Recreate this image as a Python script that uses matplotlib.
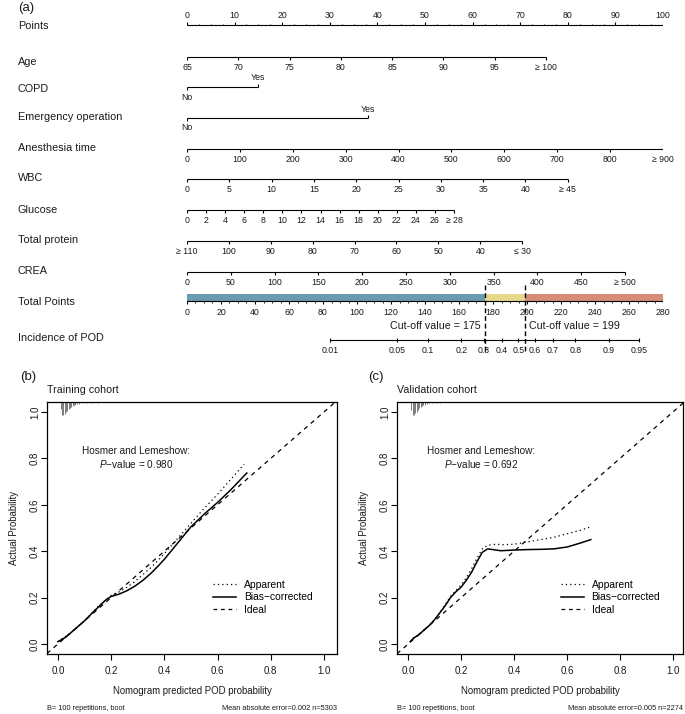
import matplotlib
matplotlib.use('Agg')
import matplotlib.pyplot as plt
import matplotlib.transforms as mtransforms
from matplotlib.lines import Line2D
import numpy as np

plt.rcParams['font.family'] = ['Liberation Sans', 'DejaVu Sans']
plt.rcParams['mathtext.fontset'] = 'custom'
plt.rcParams['mathtext.rm'] = 'Liberation Sans'
plt.rcParams['mathtext.it'] = 'Liberation Sans:italic'

W, H = 685, 714
TXT = '#1a1a1a'

# ---------------- nomogram data ----------------
var_labels = ['Age', 'COPD', 'Emergency operation', 'Anesthesia time',
              'WBC', 'Glucose', 'Total protein', 'CREA']
age_ticks = ['65', '70', '75', '80', '85', '90', '95', '≥ 100']
copd_ticks = ['No', 'Yes']
emerg_ticks = ['No', 'Yes']
anesth_ticks = ['0', '100', '200', '300', '400', '500', '600', '700', '800', '≥ 900']
wbc_ticks = ['0', '5', '10', '15', '20', '25', '30', '35', '40', '≥ 45']
glucose_ticks = ['0', '2', '4', '6', '8', '10', '12', '14', '16', '18', '20',
                 '22', '24', '26', '≥ 28']
protein_ticks = ['≥ 110', '100', '90', '80', '70', '60', '50', '40', '≤ 30']
crea_ticks = ['0', '50', '100', '150', '200', '250', '300', '350', '400', '450', '≥ 500']
var_ticks = [age_ticks, copd_ticks, emerg_ticks, anesth_ticks, wbc_ticks,
             glucose_ticks, protein_ticks, crea_ticks]
# points given to the last level of every variable
var_max_points = [75.4, 14.9, 38.0, 100.0, 80.0, 56.1, 70.4, 92.0]

total_points_ticks = [0, 20, 40, 60, 80, 100, 120, 140, 160, 180, 200, 220, 240, 260, 280]
cutoffs = [175, 199]
risk_colors = ['#6b9bb0', '#e7d78b', '#d68d77']
pod_probs = [0.01, 0.05, 0.1, 0.2, 0.3, 0.4, 0.5, 0.6, 0.7, 0.8, 0.9, 0.95]
pod_prob_labels = ['0.01', '0.05', '0.1', '0.2', '0.3', '0.4', '0.5', '0.6',
                   '0.7', '0.8', '0.9', '0.95']
lp_intercept = -8.07   # linear predictor = intercept + slope * total points
lp_slope = 0.0414

# ---------------- calibration data ----------------
train_bc_x = [0.0, 0.03, 0.07, 0.10, 0.13, 0.16, 0.18, 0.20, 0.23, 0.26, 0.29, 0.32,
              0.35, 0.38, 0.40, 0.45, 0.50, 0.55, 0.60, 0.65, 0.70, 0.71]
train_bc_y = [0.01, 0.03, 0.07, 0.10, 0.135, 0.168, 0.19, 0.205, 0.215, 0.23, 0.25, 0.275,
              0.305, 0.34, 0.365, 0.435, 0.505, 0.56, 0.61, 0.665, 0.725, 0.737]
train_app_x = [0.0, 0.05, 0.10, 0.15, 0.18, 0.20, 0.23, 0.26, 0.29, 0.32, 0.35, 0.38,
               0.40, 0.45, 0.50, 0.55, 0.60, 0.65, 0.70]
train_app_y = [0.01, 0.05, 0.10, 0.16, 0.19, 0.21, 0.225, 0.245, 0.27, 0.30, 0.33, 0.365,
               0.39, 0.455, 0.52, 0.585, 0.645, 0.71, 0.775]
train_hist_x = [0.010, 0.015, 0.020, 0.025, 0.030, 0.035, 0.040, 0.045, 0.050, 0.055,
                0.060, 0.065, 0.070, 0.080, 0.090, 0.100, 0.110, 0.120, 0.130, 0.150,
                0.170, 0.190, 0.210]
train_hist_h = [0.030, 0.055, 0.058, 0.050, 0.045, 0.038, 0.030, 0.025, 0.020, 0.016,
                0.013, 0.011, 0.009, 0.007, 0.006, 0.005, 0.004, 0.004, 0.003, 0.003,
                0.002, 0.002, 0.002]

valid_bc_x = [0.008, 0.02, 0.04, 0.06, 0.08, 0.10, 0.12, 0.14, 0.16, 0.18, 0.20, 0.22,
              0.24, 0.26, 0.28, 0.30, 0.32, 0.35, 0.40, 0.45, 0.50, 0.55, 0.60, 0.65, 0.69]
valid_bc_y = [0.01, 0.025, 0.04, 0.06, 0.08, 0.105, 0.135, 0.165, 0.20, 0.225, 0.245, 0.275,
              0.31, 0.355, 0.395, 0.41, 0.407, 0.402, 0.405, 0.407, 0.408, 0.41, 0.418,
              0.435, 0.45]
valid_app_x = [0.008, 0.02, 0.04, 0.06, 0.08, 0.10, 0.12, 0.14, 0.16, 0.18, 0.20, 0.22,
               0.24, 0.26, 0.28, 0.30, 0.33, 0.36, 0.40, 0.45, 0.50, 0.55, 0.60, 0.65, 0.69]
valid_app_y = [0.01, 0.025, 0.04, 0.06, 0.08, 0.105, 0.135, 0.17, 0.205, 0.23, 0.255, 0.285,
               0.325, 0.37, 0.41, 0.425, 0.43, 0.428, 0.43, 0.44, 0.45, 0.46, 0.475,
               0.49, 0.505]
valid_hist_x = [0.012, 0.017, 0.022, 0.027, 0.032, 0.037, 0.042, 0.047, 0.052, 0.057,
                0.062, 0.070, 0.080, 0.090, 0.100, 0.110, 0.120]
valid_hist_h = [0.035, 0.056, 0.055, 0.048, 0.042, 0.035, 0.028, 0.022, 0.018, 0.014,
                0.011, 0.008, 0.006, 0.005, 0.004, 0.003, 0.003]

fig = plt.figure(figsize=(W / 100, H / 100), dpi=100)
fig.patch.set_facecolor('white')

# ================= (a) nomogram =================
rect = [187 / W, 1 - 370 / H, 476 / W, 370 / H]
ax_n = fig.add_axes(rect)       # points scale 0-100
ax_n.set_xlim(0, 100)
ax_n.set_ylim(370, 0)
ax_n.axis('off')
ax_t = fig.add_axes(rect)       # total points scale 0-280
ax_t.set_xlim(0, 280)
ax_t.set_ylim(370, 0)
ax_t.axis('off')
ax_t.patch.set_alpha(0)

lab_tr = mtransforms.blended_transform_factory(fig.transFigure, ax_n.transData)
lw = 0.8
fs_lab = 7.8
fs_tick = 6.3

fig.text(18 / W, 1 - 8 / H, '(a)', fontsize=9.5, color=TXT, va='center', ha='left')

# Points axis
ax_n.text(18 / W, 26, 'Points', transform=lab_tr, fontsize=fs_lab, color=TXT, va='center')
ax_n.hlines(25, 0, 100, color='black', lw=lw)
pt_major = np.arange(0, 101, 10)
pt_minor = np.arange(0, 100.1, 2.5)
ax_n.vlines(pt_minor, 23.5, 25, color='black', lw=0.6)
ax_n.vlines(pt_major, 22, 25, color='black', lw=lw)
for v in pt_major:
    ax_n.text(v, 16, f'{v:d}', fontsize=fs_tick, color=TXT, ha='center', va='center')

# variable axes
line_y = [57, 87, 118, 149, 179, 210, 241, 272]
label_y = [62, 89, 117, 148, 178, 210, 240, 271]
for name, ticks, mx, ly, ty in zip(var_labels, var_ticks, var_max_points, line_y, label_y):
    ax_n.text(18 / W, ty, name, transform=lab_tr, fontsize=fs_lab, color=TXT, va='center')
    pos = np.linspace(0, mx, len(ticks))
    ax_n.hlines(ly, 0, mx, color='black', lw=lw)
    if len(ticks) == 2:
        ax_n.vlines(pos[0], ly, ly + 3, color='black', lw=lw)
        ax_n.vlines(pos[1], ly - 3, ly, color='black', lw=lw)
        ax_n.text(pos[0], ly + 10, ticks[0], fontsize=fs_tick, color=TXT, ha='center', va='center')
        ax_n.text(pos[1], ly - 9, ticks[1], fontsize=fs_tick, color=TXT, ha='center', va='center')
    else:
        ax_n.vlines(pos, ly, ly + 3, color='black', lw=lw)
        for p, t in zip(pos, ticks):
            ax_n.text(p, ly + 10, t, fontsize=fs_tick, color=TXT, ha='center', va='center')

# Total points bar
ax_n.text(18 / W, 302, 'Total Points', transform=lab_tr, fontsize=fs_lab, color=TXT, va='center')
edges = [0] + cutoffs + [total_points_ticks[-1]]
ax_t.barh([297.5] * 3, np.diff(edges), left=edges[:-1], height=7, color=risk_colors,
          edgecolor='none')
ax_t.hlines(301, 0, 280, color='black', lw=lw)
ax_t.vlines(np.arange(0, 281, 5), 301, 303, color='black', lw=0.6)
ax_t.vlines(total_points_ticks, 301, 304, color='black', lw=lw)
for v in total_points_ticks:
    ax_t.text(v, 312, f'{v:d}', fontsize=fs_tick, color=TXT, ha='center', va='center')

# cut-off lines
ax_t.vlines(cutoffs, 285, 352, color='black', lw=1.0, linestyles=(0, (3.5, 2)))
ax_t.text(cutoffs[0] - 2, 326, f'Cut-off value = {cutoffs[0]}', fontsize=7.7, color=TXT,
          ha='right', va='center')
ax_t.text(cutoffs[1] + 2, 326, f'Cut-off value = {cutoffs[1]}', fontsize=7.7, color=TXT,
          ha='left', va='center')

# Incidence of POD axis
ax_n.text(18 / W, 338, 'Incidence of POD', transform=lab_tr, fontsize=fs_lab, color=TXT,
          va='center')
logit = np.log(np.array(pod_probs) / (1 - np.array(pod_probs)))
pod_pos = (logit - lp_intercept) / lp_slope
ax_t.hlines(340, pod_pos[0], pod_pos[-1], color='black', lw=lw)
ax_t.vlines(pod_pos, 338, 342, color='black', lw=lw)
for p, t in zip(pod_pos, pod_prob_labels):
    ax_t.text(p, 350, t, fontsize=fs_tick, color=TXT, ha='center', va='center')


# ================= (b), (c) calibration =================
def draw_cal(rect, xlim, app_x, app_y, bc_x, bc_y, hist_x, hist_h, pval, mae, n,
             title, letter, letter_x, hl_x):
    ax = fig.add_axes([rect[0] / W, 1 - rect[3] / H, (rect[2] - rect[0]) / W,
                       (rect[3] - rect[1]) / H])
    ax.set_xlim(*xlim)
    ax.set_ylim(-0.043, 1.043)
    ax.plot(app_x, app_y, color='black', lw=0.9, dashes=(1, 2.5))
    ax.plot(bc_x, bc_y, color='black', lw=1.1)
    ax.axline((0, 0), (1, 1), color='black', lw=0.9, dashes=(3.5, 3.5))
    ax.vlines(hist_x, 1.043 - np.array(hist_h), 1.043, color='#333333', lw=0.45)
    ax.text(hl_x, 0.83, 'Hosmer and Lemeshow:',
            fontsize=7.2, color=TXT, ha='center', va='center')
    ax.text(hl_x, 0.776, f'$P$−value = {pval}',
            fontsize=7.2, color=TXT, ha='center', va='center')
    handles = [Line2D([], [], color='black', lw=0.9, dashes=(1, 2.5)),
               Line2D([], [], color='black', lw=1.1),
               Line2D([], [], color='black', lw=0.9, dashes=(3, 3))]
    ax.legend(handles, ['Apparent', 'Bias−corrected', 'Ideal'], loc='upper left',
              bbox_to_anchor=(0.54, 0.33), frameon=False, fontsize=7.4,
              handlelength=2.3, handletextpad=0.7, labelspacing=0.22)
    ticks = [0.0, 0.2, 0.4, 0.6, 0.8, 1.0]
    ax.set_xticks(ticks)
    ax.set_xticklabels([f'{t:.1f}' for t in ticks])
    ax.set_yticks(ticks)
    ax.set_yticklabels([f'{t:.1f}' for t in ticks], rotation=90, va='center')
    ax.tick_params(direction='out', length=4, width=0.8, labelsize=7, colors='black',
                   labelcolor=TXT)
    ax.tick_params(axis='x', pad=5)
    ax.tick_params(axis='y', pad=1)
    for s in ax.spines.values():
        s.set_linewidth(0.9)
    ax.set_xlabel('Nomogram predicted POD probability', fontsize=6.9, color=TXT, labelpad=7)
    ax.set_ylabel('Actual Probability', fontsize=6.9, color=TXT, labelpad=8)
    fig.text(rect[0] / W, 1 - 390 / H, title, fontsize=7.7, color=TXT, va='center')
    fig.text(letter_x / W, 1 - 377 / H, letter, fontsize=9.5, color=TXT, va='center')
    fig.text(rect[0] / W, 1 - 708 / H, 'B= 100 repetitions, boot', fontsize=5.3,
             color=TXT, va='center')
    fig.text(rect[2] / W, 1 - 708 / H, f'Mean absolute error={mae} n={n}', fontsize=5.3,
             color=TXT, va='center', ha='right')
    return ax


draw_cal((47, 402, 337, 654), (-0.041, 1.049), train_app_x, train_app_y, train_bc_x,
         train_bc_y, train_hist_x, train_hist_h, '0.980', '0.002', 5303,
         'Training cohort', '(b)', 20, 0.293)
draw_cal((397, 402, 683, 654), (-0.042, 1.038), valid_app_x, valid_app_y, valid_bc_x,
         valid_bc_y, valid_hist_x, valid_hist_h, '0.692', '0.005', 2274,
         'Validation cohort', '(c)', 368, 0.275)

plt.savefig('out.png', dpi=100, facecolor='white')
